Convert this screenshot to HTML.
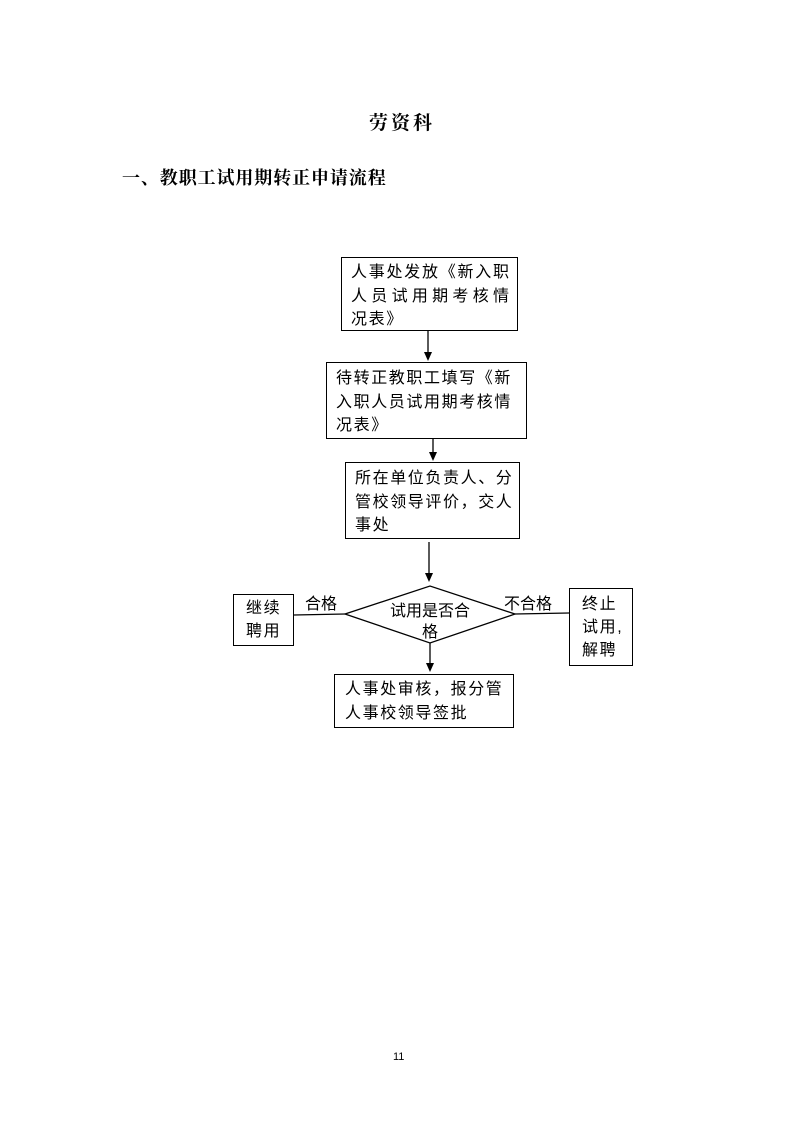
<!DOCTYPE html>
<html><head><meta charset="utf-8"><style>
body{margin:0;width:799px;height:1131px;background:#fff;position:relative;font-family:"Liberation Serif","Noto Serif CJK SC","Noto Sans CJK SC",serif;color:#000;overflow:hidden}
.t{position:absolute;white-space:nowrap}
.b{position:absolute;border:1.3px solid #000;box-sizing:border-box;font-size:16px;line-height:23.5px;font-family:"Liberation Sans","Noto Sans CJK SC",sans-serif;letter-spacing:1.6px;white-space:nowrap}
.j{display:block;width:158px;text-align:justify;text-align-last:justify;letter-spacing:0}
</style></head><body>
<div class="t" style="left:369px;top:108px;font-size:19px;font-weight:bold;letter-spacing:3px">劳资科</div>
<div class="t" style="left:122px;top:164px;font-size:18px;font-weight:bold;letter-spacing:0.9px">一、教职工试用期转正申请流程</div>

<div class="b" style="left:341px;top:257px;width:177px;height:74px;padding:3px 0 0 9px"><span class="j">人事处发放《新入职</span><span class="j">人员试用期考核情</span>况表》</div>
<div class="b" style="left:326px;top:362px;width:201px;height:77px;padding:4px 0 0 9px">待转正教职工填写《新<br>入职人员试用期考核情<br>况表》</div>
<div class="b" style="left:345px;top:462px;width:175px;height:77px;padding:4px 0 0 9px">所在单位负责人、分<br>管校领导评价，交人<br>事处</div>
<div class="b" style="left:233px;top:594px;width:61px;height:52px;padding:2px 0 0 12px;line-height:23px">继续<br>聘用</div>
<div class="b" style="left:569px;top:588px;width:64px;height:78px;padding:4px 0 0 12px;line-height:23px">终止<br>试用,<br>解聘</div>
<div class="b" style="left:334px;top:674px;width:180px;height:54px;padding:3px 0 0 10px">人事处审核，报分管<br>人事校领导签批</div>

<svg width="799" height="1131" style="position:absolute;left:0;top:0" xmlns="http://www.w3.org/2000/svg">
<g stroke="#000" stroke-width="1.3" fill="none">
<line x1="428" y1="331" x2="428" y2="353"/>
<line x1="433" y1="439" x2="433" y2="453"/>
<line x1="429" y1="542" x2="429" y2="574"/>
<polygon points="345,614 430,586 515,614 430,643"/>
<line x1="430" y1="643" x2="430" y2="664"/>
<line x1="294" y1="615" x2="345" y2="614"/>
<line x1="515" y1="614" x2="569" y2="613"/>
</g>
<g fill="#000">
<polygon points="424,352 432,352 428,361"/>
<polygon points="429,452 437,452 433,461"/>
<polygon points="425,573 433,573 429,582"/>
<polygon points="426,663 434,663 430,672"/>
</g>
</svg>
<div class="t" style="left:374px;top:601px;width:112px;text-align:center;font-size:16px;line-height:21px;font-family:'Liberation Sans','Noto Sans CJK SC',sans-serif">试用是否合<br>格</div>
<div class="t" style="left:305px;top:590px;font-size:16px;font-family:'Liberation Sans','Noto Sans CJK SC',sans-serif">合格</div>
<div class="t" style="left:504px;top:590px;font-size:16px;font-family:'Liberation Sans','Noto Sans CJK SC',sans-serif">不合格</div>
<div class="t" style="left:393px;top:1051px;font-size:11px;font-family:'Liberation Sans',sans-serif">11</div>
</body></html>
